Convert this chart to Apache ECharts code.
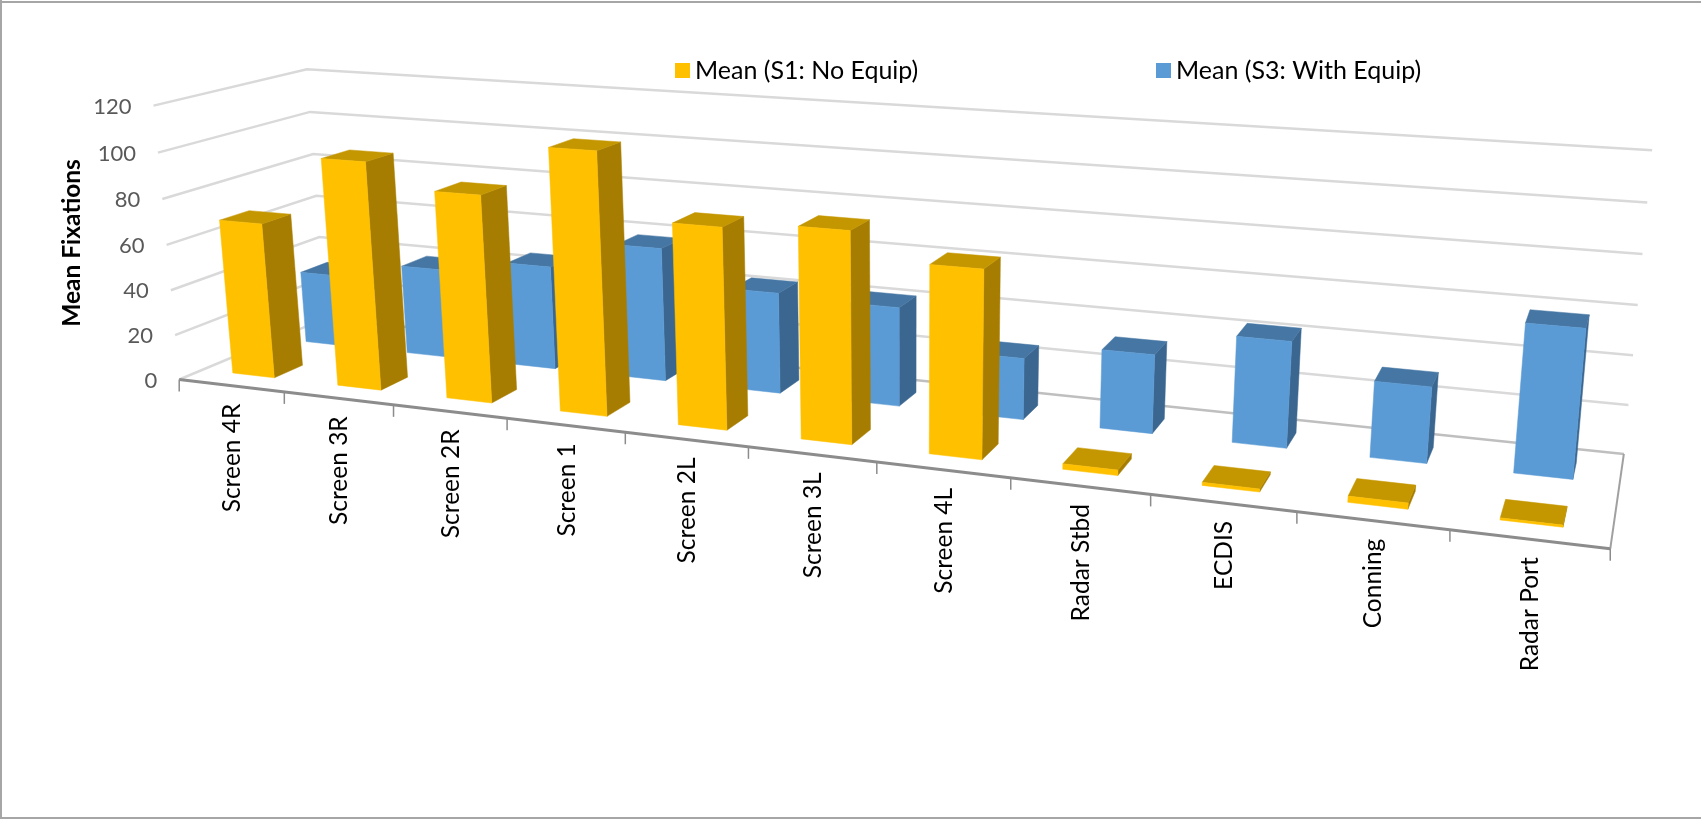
<!DOCTYPE html>
<html><head><meta charset="utf-8">
<style>html,body{margin:0;padding:0;background:#fff;}#c{width:1701px;height:819px;}</style>
<script src="https://cdn.jsdelivr.net/npm/echarts@6/dist/echarts.min.js"></script>
</head><body><div id="c"></div>
<script>
// ---- data ----
const categories = ['Screen 4R','Screen 3R','Screen 2R','Screen 1','Screen 2L','Screen 3L','Screen 4L','Radar Stbd','ECDIS','Conning','Radar Port'];
const noEquip   = [68.6, 99.1, 88.9, 110.7, 83.8, 86.6, 75.9, 2.2, 1.2, 2.4, 0.8];
const withEquip = [32.9, 40.3, 46.2, 58.8, 43.9, 42.5, 26, 32.9, 43.6, 30.8, 59];
const valueTicks = [0,20,40,60,80,100,120];
const seriesNames = ['Mean (S1: No Equip)','Mean (S3: With Equip)'];
const axisTitle = 'Mean Fixations';

// ---- camera calibration: [category position, depth 0..1, value, screen x, screen y] ----
const cameraAnchors = [
 [0,0,0,179.3,379.3],[1,0,0,284.3,391.7],[4,0,0,625.3,432.2],[8,0,0,1151,494.5],[11,0,0,1610,549],
 [0,1,0,325.5,318.4],[11,1,0,1623.7,454],
 [0,0,120,153.7,105.7],[0,1,120,307,69.3],[11,1,120,1652,150],
 [0,0,60,166.3,245],[0,1,60,316,196],[11,1,60,1638,305]
];
function solveCamera(a){
  const rows=[],rhs=[];
  a.forEach(([u,d,v,x,y])=>{u/=11;v/=120;x/=1000;y/=1000;
    rows.push([u,d,v,1,0,0,0,0,-x*u,-x*d,-x*v]);rhs.push(x);
    rows.push([0,0,0,0,u,d,v,1,-y*u,-y*d,-y*v]);rhs.push(y);});
  const n=11,M=[];
  for(let i=0;i<n;i++){M[i]=[];for(let j=0;j<=n;j++){let s=0;
    rows.forEach((r,k)=>{s+=r[i]*(j<n?r[j]:rhs[k]);});M[i][j]=s;}
    M[i][i]+=1e-9;}
  for(let i=0;i<n;i++){let p=i;for(let k=i+1;k<n;k++)if(Math.abs(M[k][i])>Math.abs(M[p][i]))p=k;
    [M[i],M[p]]=[M[p],M[i]];
    for(let k=0;k<n;k++){if(k===i)continue;const f=M[k][i]/M[i][i];for(let j=i;j<=n;j++)M[k][j]-=f*M[i][j];}}
  return M.map((r,i)=>r[n]/r[i]);
}
const cam=solveCamera(cameraAnchors);
function project(u,d,v){u/=11;v/=120;
  const w=cam[8]*u+cam[9]*d+cam[10]*v+1;
  return [1000*(cam[0]*u+cam[1]*d+cam[2]*v+cam[3])/w,1000*(cam[4]*u+cam[5]*d+cam[6]*v+cam[7])/w];}

// The hidden grid carries the scales: pixel -> (category units, value units)
const G={left:100,top:100,width:1100,height:600};
function toUV(px){return [(px[0]-G.left)/(G.width/categories.length),(G.top+G.height-px[1])/(G.height/120)];}

const FONT='Lato, Carlito, "Open Sans", sans-serif';
const palette={
  y:{front:'#FFC000',side:'#A67D00',top:'#C49600',d0:0.15,d1:0.34},
  b:{front:'#5B9BD5',side:'#3A6690',top:'#4676A3',d0:0.65,d1:0.84}
};
const HALF=0.2, SHIFT=-0.01;
function poly(pts,fill,stroke){return {type:'polygon',shape:{points:pts},style:{fill:fill,stroke:stroke||fill,lineWidth:0.5}};}
function barItem(c){return function(params,api){
  const base=toUV(api.coord([api.value(0),0]));
  const top=toUV(api.coord([api.value(0),api.value(1)]));
  const u0=base[0]-HALF+SHIFT,u1=base[0]+HALF+SHIFT,v=top[1],d0=c.d0,d1=c.d1;
  const P=(u,d,h)=>project(u,d,h);
  return {type:'group',children:[
    poly([P(u1,d0,0),P(u1,d1,0),P(u1,d1,v),P(u1,d0,v)],c.side),
    poly([P(u0,d0,v),P(u1,d0,v),P(u1,d1,v),P(u0,d1,v)],c.top),
    poly([P(u0,d0,0),P(u1,d0,0),P(u1,d0,v),P(u0,d0,v)],c.front)
  ]};
};}
function gridItem(params,api){
  const v=toUV(api.coord([0,api.value(0)]))[1];
  const a=project(0,0,v),b=project(0,1,v),c=project(11,1,v);
  const kids=[];
  if(v>0) kids.push({type:'polyline',shape:{points:[a,b,c]},style:{fill:null,stroke:'#D9D9D9',lineWidth:2.5}});
  kids.push({type:'text',x:a[0]-22,y:a[1]+1,style:{text:String(api.value(0)),font:'22px '+FONT,fill:'#595959',align:'right',verticalAlign:'middle'}});
  return {type:'group',children:kids};
}
function floorItem(){
  const A=project(0,0,0),B=project(11,0,0),C=project(11,1,0),D=project(0,1,0);
  return {type:'group',children:[
    {type:'polyline',shape:{points:[A,D]},style:{fill:null,stroke:'#D9D9D9',lineWidth:2.5}},
    {type:'polyline',shape:{points:[D,C]},style:{fill:null,stroke:'#BFBFBF',lineWidth:2.5}},
    {type:'polyline',shape:{points:[C,B]},style:{fill:null,stroke:'#A0A0A0',lineWidth:2}},
    {type:'polyline',shape:{points:[A,B]},style:{fill:null,stroke:'#8C8C8C',lineWidth:3}}
  ]};
}
function catItem(params,api){
  const i=api.value(0);
  const cu=toUV(api.coord([i,0]))[0];
  const t=project(cu-0.5,0,0),m=project(cu,0,0);
  const kids=[{type:'line',shape:{x1:t[0],y1:t[1],x2:t[0],y2:t[1]+12},style:{stroke:'#8C8C8C',lineWidth:1.5}},
    {type:'text',x:m[0]+1,y:m[1]+18,rotation:Math.PI/2,style:{text:categories[i],font:'24.5px '+FONT,fill:'#000',align:'right',verticalAlign:'middle'}}];
  if(i===categories.length-1){const e=project(11,0,0);kids.push({type:'line',shape:{x1:e[0],y1:e[1],x2:e[0],y2:e[1]+12},style:{stroke:'#8C8C8C',lineWidth:1.5}});}
  return {type:'group',children:kids};
}
const idx=categories.map((_,i)=>[i]);
const frameStyle={stroke:'#A6A6A6',lineWidth:2};
const chart=echarts.init(document.getElementById('c'),null,{renderer:'canvas'});
chart.setOption({
  animation:false,backgroundColor:'#fff',
  grid:Object.assign({containLabel:false},G),
  xAxis:{type:'category',data:categories,show:false},
  yAxis:{type:'value',min:0,max:120,interval:20,show:false},
  legend:[
   {data:[seriesNames[0]],left:675,top:58,padding:0,icon:'rect',itemWidth:15,itemHeight:15,itemGap:7,textStyle:{fontFamily:FONT,fontSize:25,color:'#000'},selectedMode:false},
   {data:[seriesNames[1]],left:1156,top:58,padding:0,icon:'rect',itemWidth:15,itemHeight:15,itemGap:7,textStyle:{fontFamily:FONT,fontSize:25,color:'#000'},selectedMode:false}
  ],
  graphic:[
   {type:'text',x:72,y:243,rotation:Math.PI/2,style:{text:axisTitle,font:'bold 24.5px '+FONT,fill:'#000',align:'center',verticalAlign:'middle'}},
   {type:'line',shape:{x1:0,y1:2,x2:1701,y2:2},style:frameStyle},
   {type:'line',shape:{x1:1,y1:0,x2:1,y2:819},style:frameStyle},
   {type:'line',shape:{x1:0,y1:818,x2:1701,y2:818},style:frameStyle}
  ],
  series:[
   {type:'custom',name:'grid',silent:true,z:1,data:valueTicks.map(v=>[v]),encode:{y:0},renderItem:gridItem},
   {type:'custom',name:'floor',silent:true,z:2,data:[[0]],renderItem:floorItem},
   {type:'custom',name:'cats',silent:true,z:2,data:idx,encode:{x:0},renderItem:catItem},
   {type:'custom',name:seriesNames[1],z:3,itemStyle:{color:palette.b.front},data:withEquip.map((v,i)=>[i,v]),encode:{x:0,y:1},renderItem:barItem(palette.b)},
   {type:'custom',name:seriesNames[0],z:4,itemStyle:{color:palette.y.front},data:noEquip.map((v,i)=>[i,v]),encode:{x:0,y:1},renderItem:barItem(palette.y)}
  ]
});
</script></body></html>
